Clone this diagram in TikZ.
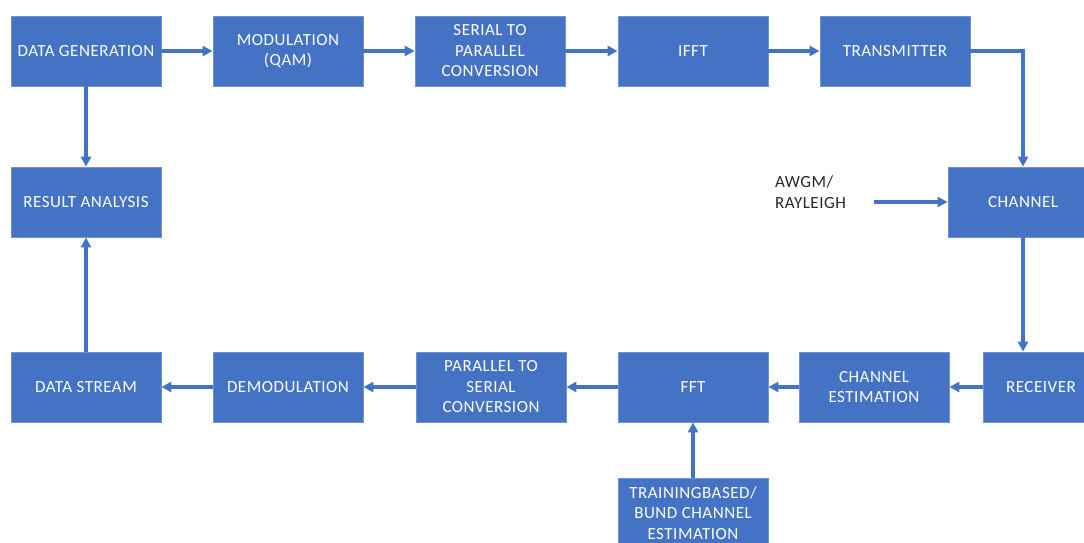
\documentclass[tikz,border=0pt]{standalone}
\usepackage{fontspec}
\setmainfont{Carlito}[LetterSpace=3]
\usetikzlibrary{arrows.meta}
\definecolor{officeblue}{HTML}{4472C4}
\definecolor{edgeblue}{HTML}{6F93D3}
\definecolor{labelgrey}{HTML}{262626}
\begin{document}
\begin{tikzpicture}[x=1pt,y=-1pt,
  box/.style={draw=edgeblue,line width=0.8pt,fill=officeblue,text=white,
    minimum width=150pt,minimum height=70pt,inner sep=0pt,align=center,
    font=\fontsize{17}{20.5}\selectfont},
  arr/.style={draw=officeblue,line width=3.3pt,-{Triangle[width=10pt,length=10pt]}}]

\useasboundingbox (0,0) rectangle (1084,543);
\clip (0,0) rectangle (1084,543);

% top row
\node[box] (gen) at (86,51) {DATA GENERATION};
\node[box] (mod) at (288,51) {MODULATION\\(QAM)};
\node[box] (stop) at (490,51) {SERIAL TO\\PARALLEL\\CONVERSION};
\node[box] (ifft) at (693,51) {IFFT};
\node[box] (tx) at (895,51) {TRANSMITTER};

% middle
\node[box] (res) at (86,202) {RESULT ANALYSIS};
\node[box] (chan) at (1023,202) {CHANNEL};
\node[anchor=west,align=left,text=labelgrey,inner sep=0pt,
  font=\fontsize{17}{20.5}\selectfont] (awgm) at (775,192) {AWGM/\\RAYLEIGH};
\coordinate (noise) at (874,202);

% bottom row
\node[box] (stream) at (86,387) {DATA STREAM};
\node[box] (demod) at (288,387) {DEMODULATION};
\node[box] (ptos) at (491,387) {PARALLEL TO\\SERIAL\\CONVERSION};
\node[box] (fft) at (693,387) {FFT};
\node[box] (est) at (874,387) {CHANNEL\\ESTIMATION};
\node[box,minimum width=116pt] (rx) at (1041,387) {RECEIVER};
\node[box] (train) at (693,513) {TRAININGBASED/\\BUND CHANNEL\\ESTIMATION};

% connectors
\draw[arr] (gen) -- (mod);
\draw[arr] (mod) -- (stop);
\draw[arr] (stop) -- (ifft);
\draw[arr] (ifft) -- (tx);
\draw[arr] (tx.east) -| (chan.north);
\draw[arr] (noise) -- (chan.west);
\draw[arr] (chan.south) -- (chan.south |- rx.north);
\draw[arr] (rx) -- (est);
\draw[arr] (est) -- (fft);
\draw[arr] (fft) -- (ptos);
\draw[arr] (ptos) -- (demod);
\draw[arr] (demod) -- (stream);
\draw[arr] (train) -- (fft);
\draw[arr] (gen) -- (res);
\draw[arr] (stream) -- (res);
\end{tikzpicture}
\end{document}
